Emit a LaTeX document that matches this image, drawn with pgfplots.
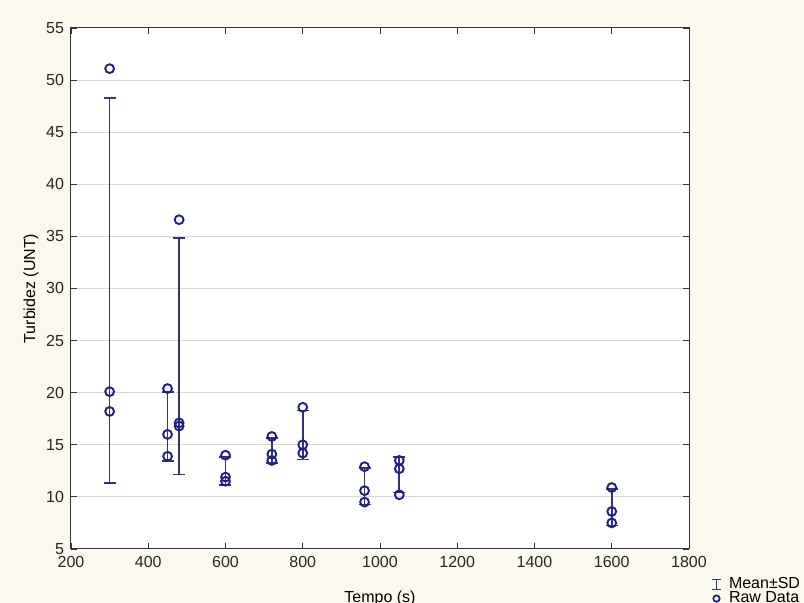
\documentclass[border=0pt]{standalone}
\usepackage{fontspec}
\setmainfont{Liberation Sans}
\usepackage{pgfplots}
\usepackage{pgfplotstable}
\pgfplotsset{compat=1.18}
\definecolor{bgcream}{RGB}{251,248,238}
\definecolor{ptnavy}{RGB}{30,30,135}
\definecolor{barnavy}{RGB}{50,50,125}

% raw turbidity readings
\pgfplotstableread{
x y
300 51.1
300 20.1
300 18.2
450 20.4
450 16.0
450 13.9
480 36.6
480 17.1
480 16.8
600 14.0
600 11.9
600 11.5
720 15.8
720 14.1
720 13.5
800 18.6
800 15.0
800 14.2
960 12.9
960 10.6
960 9.5
1050 13.5
1050 12.7
1050 10.2
1600 10.9
1600 8.6
1600 7.5
}\rawdata

% mean and SD per time
\pgfplotstableread{
x mean sd
300 29.80 18.47
450 16.77 3.32
480 23.50 11.35
600 12.47 1.34
720 14.47 1.19
800 15.93 2.35
960 11.00 1.74
1050 12.13 1.72
1600 9.00 1.74
}\stats

\begin{document}
\begin{tikzpicture}
\fill[bgcream, use as bounding box] (-35.5pt,-27pt) rectangle (366.5pt,274.5pt);
\begin{axis}[
  scale only axis,
  width=309pt, height=260.5pt,
  at={(0,0)}, anchor=south west,
  font=\fontsize{8}{9.6}\selectfont,
  /pgf/number format/assume math mode=true,
  /pgf/number format/1000 sep={},
  axis background/.style={fill=white},
  axis line style={black!80, line width=0.5pt},
  xmin=200, xmax=1800, ymin=5, ymax=55,
  xtick={200,400,...,1800},
  ytick={5,10,...,55},
  tick align=inside,
  major tick length=3pt,
  tick style={black!80, line width=0.4pt},
  ymajorgrids=true,
  major grid style={black!15, line width=0.5pt},
  ticklabel style={black!85},
  xlabel={Tempo (s)},
  ylabel={Turbidez (UNT)},
  xlabel style={at={(axis description cs:0.5,0)}, anchor=center, yshift=-24.5pt},
  ylabel style={at={(axis description cs:0,0.5)}, anchor=center, yshift=20pt},
  legend style={at={(axis description cs:1.030,-0.046)}, anchor=north west,
    draw=none, fill=none, inner sep=0pt, row sep=-4pt,
    font=\fontsize{8}{9.6}\selectfont},
  legend cell align=left,
]
\addplot[draw=none, mark=none,
  legend image code/.code={
    \path[draw=none] (0cm,0cm) -- (0.3cm,0cm);
    \draw[barnavy, line width=0.7pt] (0.15cm,-0.09cm) -- (0.15cm,0.09cm);
    \draw[barnavy, line width=0.7pt] (0.07cm,-0.09cm) -- (0.23cm,-0.09cm);
    \draw[barnavy, line width=0.7pt] (0.07cm,0.09cm) -- (0.23cm,0.09cm);},
  error bars/.cd, y dir=both, y explicit, error mark=-,
  error bar style={draw=barnavy, line width=0.85pt, solid},
  error mark options={rotate=90, draw=barnavy, line width=0.85pt, mark size=3pt},
  ] table[x=x, y=mean, y error=sd] {\stats};
\addlegendentry{Mean±SD}

\addplot[ptnavy, only marks, mark=o, mark size=2.2pt,
  mark options={line width=0.95pt},
  legend image code/.code={
    \path[draw=none] (0cm,0cm) -- (0.3cm,0cm);
    \draw[ptnavy, line width=0.85pt] (0.15cm,0cm) circle (1.6pt);}]
  table[x=x, y=y] {\rawdata};
\addlegendentry{Raw Data}
\end{axis}
\end{tikzpicture}
\end{document}
